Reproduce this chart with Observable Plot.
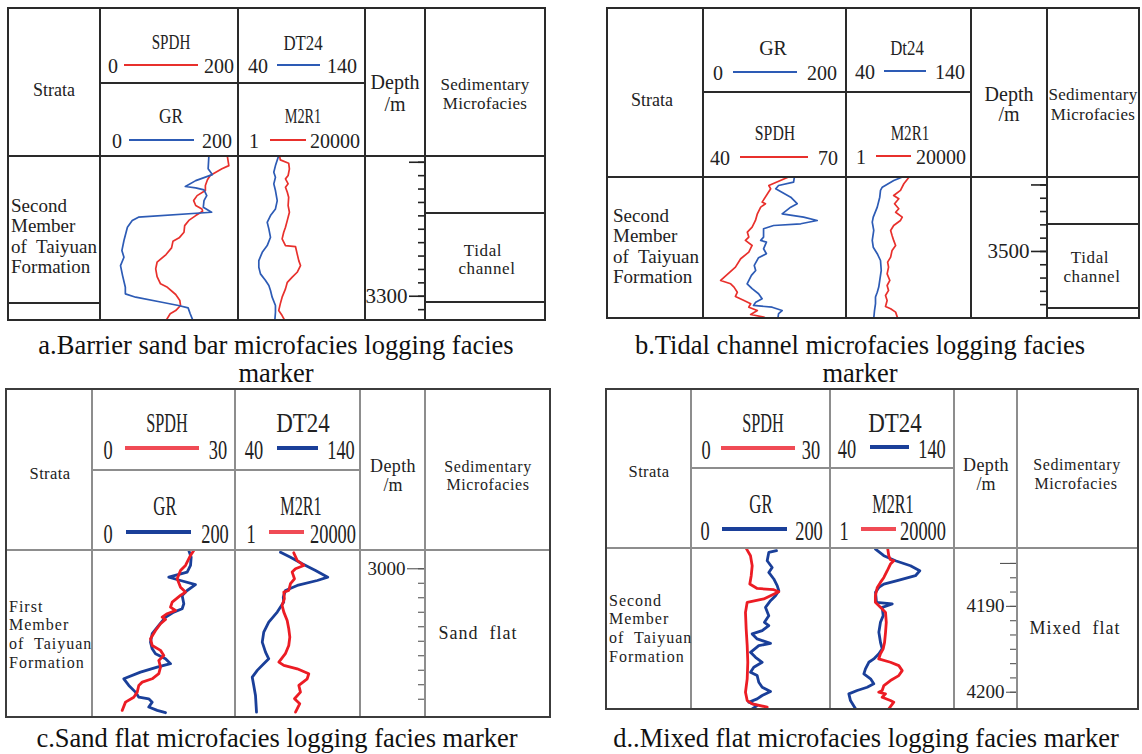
<!DOCTYPE html>
<html><head><meta charset="utf-8">
<script src="https://cdn.jsdelivr.net/npm/d3@7"></script>
<script src="https://cdn.jsdelivr.net/npm/@observablehq/plot@0.6"></script>
<style>
html,body{margin:0;padding:0;background:#fff;}
#fig{position:relative;width:1142px;height:754px;overflow:hidden;background:#fff;}
#fig svg{display:block;}
</style></head><body><div id="fig"></div>
<script>
// ================= DATA =================
// curve readings: [depth (m), value]
const a_SPDH = [[3289.6,184],[3290.25,186],[3290.49,176],[3290.99,159],[3291.31,155],[3291.74,152],[3292.11,152],[3292.49,140],[3292.86,135],[3293.23,138],[3293.48,147],[3293.66,148],[3293.98,138],[3294.34,128],[3294.73,122],[3295.22,121],[3295.64,114],[3295.90,105],[3296.39,103],[3296.89,95],[3297.46,82],[3297.96,80],[3298.53,82],[3299.07,87],[3299.33,97],[3299.87,109],[3300.32,115],[3300.69,116],[3301.07,109],[3301.31,101],[3301.81,95]];
const a_GR = [[3289.6,157],[3290.49,156],[3290.92,162],[3291.37,138],[3291.81,123],[3291.91,138],[3292.06,150],[3292.49,154],[3292.86,150],[3293.36,149],[3293.73,161],[3294.10,55],[3294.34,46],[3294.85,39],[3295.84,34],[3296.59,31],[3297.09,34],[3297.71,29],[3298.46,32],[3299.33,36],[3299.82,36],[3300.07,51],[3300.45,89],[3300.69,113],[3300.87,127],[3301.31,130],[3301.81,134]];
const a_DT24 = [[3289.6,71.3],[3290.25,69.1],[3290.75,67.8],[3291.12,69.1],[3291.61,67.8],[3292.11,69.1],[3292.86,70.5],[3293.48,69.1],[3293.98,65.2],[3294.48,62.6],[3294.97,63.9],[3295.60,65.2],[3296.22,62.6],[3296.72,58.7],[3297.34,56],[3297.84,56],[3298.33,57.3],[3298.83,61.3],[3299.20,63.9],[3299.57,65.2],[3300.07,66.5],[3300.69,69.1],[3301.19,69.1],[3301.81,68.6]];
const a_M2R1 = [[3289.6,25],[3289.82,26],[3290.07,50],[3290.49,53],[3290.99,48],[3291.24,39],[3291.61,48],[3291.87,39],[3292.24,45],[3292.61,50],[3293.23,48],[3293.73,53],[3294.34,45],[3294.85,39],[3295.22,34],[3295.72,30],[3296.22,39],[3296.29,85],[3296.84,97],[3297.34,110],[3297.71,126],[3298.21,97],[3298.58,66],[3298.96,45],[3299.45,39],[3300.07,30],[3300.57,26],[3301.07,23],[3301.44,30],[3301.81,37]];

const b_GR = [[3494.44,127],[3494.79,126],[3495.04,105],[3495.29,101],[3495.92,122],[3496.41,131],[3496.67,122],[3497.17,110],[3497.42,140],[3497.67,159],[3497.92,136],[3498.05,98],[3498.29,84],[3498.92,84],[3499.17,80],[3499.30,88],[3499.80,84],[3500.17,88],[3500.47,77],[3501.05,71],[3501.43,73],[3501.80,67],[3502.43,61],[3502.80,68],[3503.18,77],[3503.56,82],[3503.81,73],[3504.06,70],[3504.19,96],[3504.44,110],[3504.68,105],[3505.04,104]];
const b_SPDH = [[3494.44,57.6],[3495.04,53.7],[3495.29,54.1],[3496.29,52.3],[3496.41,53.0],[3496.67,52.0],[3497.17,51.3],[3497.67,50.9],[3498.17,50.2],[3498.55,49.2],[3498.92,49.5],[3499.17,48.8],[3499.55,50.2],[3500.05,49.5],[3500.55,47.8],[3501.18,46.7],[3502.18,43.6],[3502.43,45.7],[3502.68,46.4],[3503.06,47.1],[3503.38,46.7],[3503.68,48.5],[3503.93,49.9],[3504.19,49.5],[3504.44,51.3],[3504.74,49.9],[3504.94,52.7],[3505.04,53.2]];
const b_DT24 = [[3494.44,83.8],[3494.66,77.8],[3495.17,68.6],[3495.41,67.2],[3495.92,66.6],[3496.67,64.6],[3497.42,61.4],[3497.80,60.6],[3498.42,61.8],[3499.17,60.6],[3499.68,61.4],[3500.17,64.6],[3500.68,67.2],[3501.43,67.8],[3502.18,66.6],[3502.68,65.8],[3503.06,64.6],[3503.43,63.2],[3503.93,63.2],[3504.44,62.4],[3505.04,61.8]];
const b_M2R1 = [[3494.44,139],[3494.91,94],[3495.41,72],[3495.79,42],[3496.04,63],[3496.41,45],[3496.79,63],[3497.05,49],[3497.42,83],[3497.67,72],[3498.05,42],[3498.42,33],[3498.80,37],[3499.17,42],[3499.55,49],[3499.92,37],[3500.43,33],[3500.80,26],[3501.18,28],[3501.68,25],[3502.18,31],[3502.56,25],[3502.93,28],[3503.31,22],[3503.68,25],[3504.14,22],[3504.31,33],[3504.56,49],[3505.04,58]];

const c_SPDH = [[2998.74,21.25],[2999.08,20.56],[2999.77,19.51],[3000.12,18.46],[3000.69,17.77],[3001.27,18.46],[3001.61,19.51],[3001.84,18.46],[3002.30,16.72],[3002.65,16.36],[3002.88,17.41],[3003.10,15.67],[3003.34,14.62],[3003.50,15.32],[3003.79,14.27],[3004.26,13.22],[3004.83,12.17],[3005.29,12.52],[3005.63,14.27],[3005.98,14.96],[3006.32,13.91],[3006.79,14.27],[3007.24,13.91],[3007.59,12.52],[3007.82,10.43],[3008.05,9.71],[3008.51,9.38],[3008.86,8.66],[3009.20,6.92],[3009.77,6.23]];
const c_GR = [[2998.74,134.7],[2999.20,138],[2999.77,137.1],[3000.23,132.4],[3000.58,106.7],[3000.81,123.1],[3001.10,144],[3001.50,132.4],[3001.84,125.4],[3002.41,127.7],[3002.76,125.4],[3002.99,113.7],[3003.34,102.1],[3003.91,92.7],[3004.48,83.5],[3005.06,81.1],[3005.52,83.5],[3005.86,88.1],[3006.21,102.1],[3006.55,109.1],[3006.79,90.5],[3007.13,67.1],[3007.59,43.8],[3008.05,50.8],[3008.51,60.1],[3008.86,64.8],[3008.97,78.7],[3009.20,83.5],[3009.54,78.7],[3009.77,90.5],[3009.93,102.1]];
const c_DT24 = [[2998.86,76],[2999.20,84],[2999.66,93.4],[3000.12,104],[3000.58,113.8],[3000.81,105.4],[3001.15,89.4],[3001.50,80],[3001.96,78.2],[3002.30,78.6],[3002.99,73.4],[3003.68,66.6],[3004.37,62.6],[3005.06,61.4],[3005.75,64],[3006.21,66.6],[3006.55,62.6],[3007.01,57.4],[3007.48,53.4],[3008.05,54.6],[3008.74,56],[3009.89,56.8]];
const c_M2R1 = [[2998.90,101],[2999.43,133],[2999.77,224],[3000.00,116],[3000.23,89],[3000.69,107],[3001.03,78],[3001.50,68],[3001.61,46],[3002.07,48],[3002.53,40],[3002.99,46],[3003.57,60],[3004.14,68],[3004.72,74],[3005.29,68],[3005.86,52],[3006.44,31],[3006.67,46],[3006.90,133],[3007.24,333],[3007.59,293],[3008.05,151],[3008.51,172],[3008.97,107],[3009.31,163],[3009.89,116]];

const d_SPDH = [[4183.3,11.87],[4184.10,12.73],[4185.27,13.10],[4186.43,12.89],[4187.40,12.58],[4187.91,14.18],[4188.06,17.76],[4188.29,18.84],[4189.14,15.60],[4189.53,12.02],[4190.70,11.65],[4192.63,11.80],[4194.57,12.02],[4196.51,12.15],[4198.44,12.02],[4200.00,11.65],[4200.97,12.02],[4201.35,13.10],[4201.74,16.34]];
const d_GR = [[4183.52,122.3],[4183.72,111.2],[4184.69,108.9],[4185.47,116.1],[4186.05,111.2],[4186.81,118.4],[4187.59,123.3],[4188.17,125.6],[4188.76,120.9],[4189.34,113.7],[4190.12,106.5],[4191.08,111.2],[4191.86,105],[4192.24,111.2],[4192.83,101.7],[4193.21,87.3],[4193.79,94.5],[4194.30,113.7],[4194.57,96.8],[4195.35,84.9],[4195.93,92.1],[4196.51,101.7],[4197.09,89.6],[4197.67,84.9],[4198.06,94.5],[4198.84,96.8],[4199.42,101.7],[4199.92,113.7],[4200.38,101.7],[4200.77,94.5],[4201.16,82.4],[4201.55,94.5],[4201.93,87.3]];
const d_DT24 = [[4183.33,76.3],[4184.10,83],[4184.69,92.4],[4185.27,104.5],[4185.85,112],[4186.43,108.5],[4187.01,93.8],[4187.40,83],[4187.79,79],[4188.37,76.3],[4189.53,77.1],[4189.72,89.8],[4190.12,81.7],[4191.08,82.5],[4191.86,80.3],[4193.02,79],[4194.19,80.3],[4194.95,81.7],[4195.53,79],[4196.12,74.9],[4196.51,70.9],[4197.28,68.2],[4197.86,66.9],[4198.44,72.3],[4199.02,74.9],[4199.42,69.6],[4199.80,61.5],[4200.19,54.8],[4200.97,56.1],[4201.93,60.2]];
const d_M2R1 = [[4183.33,97],[4184.10,105],[4184.57,120],[4184.69,157],[4185.07,120],[4185.85,93],[4186.63,71],[4187.21,54],[4187.79,42],[4188.76,36],[4189.53,36],[4190.30,62],[4190.70,81],[4191.86,86],[4193.02,81],[4194.19,75],[4194.95,67],[4195.53,54],[4196.12,47],[4196.51,120],[4196.90,234],[4197.48,307],[4198.06,234],[4198.64,120],[4199.22,71],[4199.80,62],[4200.00,47],[4200.19,81],[4200.58,62],[4200.97,120],[4201.16,157],[4201.93,105]];

// curve scale ranges (header legends)
const a_ranges = {SPDH:[0,200], GR:[0,200], DT24:[40,140], M2R1:[1,20000]};
const b_ranges = {GR:[0,200], Dt24:[40,140], SPDH:[40,70], M2R1:[1,20000]};
const c_ranges = {SPDH:[0,30], GR:[0,200], DT24:[40,140], M2R1:[1,20000]};
const d_ranges = {SPDH:[0,30], GR:[0,200], DT24:[40,140], M2R1:[1,20000]};

// depth ticks
const a_minor = [3290,3291,3292,3293,3294,3295,3296,3297,3298,3299,3300,3301];
const a_major = [3290];
const a_labels = [3300];
const b_minor = [3495,3496,3497,3498,3499,3500,3501,3502,3503,3504];
const b_major = [3495];
const b_labels = [3500];
const c_minor = [3000,3001,3002,3003,3004,3005,3006,3007,3008,3009];
const c_major = [];
const c_labels = [3000];
const d_minor = [4185,4186.67,4188.33,4190,4191.67,4193.33,4195,4196.67,4198.33,4200];
const d_major = [4185];
const d_labels = [4190,4200];

// texts
const stratumA = ["Second","Member","of  Taiyuan","Formation"];
const stratumC = ["First","Member","of  Taiyuan","Formation"];
const captions = {
  a:["a.Barrier sand bar microfacies logging facies","marker"],
  b:["b.Tidal channel microfacies logging facies","marker"],
  c:["c.Sand flat microfacies logging facies marker"],
  d:["d..Mixed flat microfacies logging facies marker"]
};

// ================= DRAWING =================
const SERIF = '"Liberation Serif","DejaVu Serif","Times New Roman",serif';
const fig = document.getElementById('fig');
function el(style){const d=document.createElement('div');Object.assign(d.style,{position:'absolute'},style);fig.appendChild(d);return d;}
function hline(x1,x2,y,w,c){el({left:x1+'px',top:(y-w/2)+'px',width:(x2-x1)+'px',height:w+'px',background:c});}
function vline(x,y1,y2,w,c){el({left:(x-w/2)+'px',top:y1+'px',width:w+'px',height:(y2-y1)+'px',background:c});}
function text(str,x,y,o={}){
  const d=el({left:x+'px',top:y+'px',transform:`translate(-50%,-50%) scaleX(${o.sx||1})`,fontFamily:SERIF,
    fontSize:(o.size||16)+'px',whiteSpace:'pre',color:o.color||'#222',letterSpacing:(o.ls||0)+'px',lineHeight:'1'});
  d.textContent=str;
}
function ltext(str,x,y,o={}){
  const d=el({left:x+'px',top:y+'px',transform:'translate(0,-50%)',fontFamily:SERIF,fontSize:(o.size||16)+'px',
    whiteSpace:'pre',color:o.color||'#222',letterSpacing:(o.ls||0)+'px',lineHeight:'1'});
  d.textContent=str;
}
function curvePlot(data,x1,x2,y1,y2,xdom,type,ydom,color,sw){
  const svg=Plot.plot({width:x2-x1,height:y2-y1,margin:0,
    x:{domain:xdom,type,axis:null},y:{domain:ydom,reverse:true,axis:null},
    style:{background:'transparent',overflow:'visible'},
    marks:[Plot.line(data,{x:d=>d[1],y:d=>d[0],stroke:color,strokeWidth:sw,strokeLinejoin:'round',strokeLinecap:'round',clip:true})]});
  const d=el({left:x1+'px',top:y1+'px',width:(x2-x1)+'px',height:(y2-y1)+'px'});
  d.appendChild(svg);
}
function depthAxis(P){
  const [x0,x1,x2,x3,x4,x5]=P.cols;const hd=P.rows[2],b=P.rows[3];
  const w=x4-x3,h=b-hd,tw=P.sty.tickW,tc=P.sty.tickC;
  const common={anchor:'left',strokeWidth:tw,stroke:tc,label:null,fontSize:P.axisFont,fontFamily:SERIF,fill:'#222'};
  const marks=[Plot.axisY(P.minor,{...common,tickSize:6,tickFormat:()=>''})];
  if(P.major.length)marks.push(Plot.axisY(P.major,{...common,tickSize:P.majorSize,tickFormat:()=>''}));
  marks.push(Plot.axisY(P.labels,{...common,tickSize:P.labelSize,tickPadding:2,tickFormat:d=>String(d)}));
  const svg=Plot.plot({width:w,height:h,marginTop:0,marginBottom:0,marginLeft:w-1,marginRight:1,
    y:{domain:P.depth,reverse:true,label:null},
    style:{background:'transparent',overflow:'visible',fontFamily:SERIF,fontSize:P.axisFont+'px',color:'#222'},marks});
  svg.querySelectorAll('text').forEach(t=>{t.style.fontFamily=SERIF;t.style.fontSize=P.axisFont+'px';});
  svg.querySelectorAll('g').forEach(g=>{if(g.getAttribute('font-size'))g.setAttribute('font-size',P.axisFont);});
  const d=el({left:x3+'px',top:hd+'px',width:w+'px',height:h+'px'});
  d.appendChild(svg);
}
function drawPanel(P){
  const [x0,x1,x2,x3,x4,x5]=P.cols;const [t,m,hd,b]=P.rows;const S=P.sty;
  P.curves.forEach(cv=>{
    const xa=cv.track===0?x1:x2, xb=cv.track===0?x2:x3;
    curvePlot(cv.data,xa,xb,hd,b,cv.range,cv.range[1]===20000?'log':'linear',P.depth,cv.color,S.curveW);
  });
  [x1,x2,x3,x4].forEach(x=>vline(x,t,b,S.innerW,S.innerC));
  hline(x0,x5,hd,S.innerW,S.innerC);
  hline(x1,x3,m,S.innerW,S.innerC);
  P.extra.forEach(([xa,xb,y])=>hline(xa,xb,y,S.innerW,S.innerC));
  hline(x0-S.outerW/2,x5+S.outerW/2,t,S.outerW,S.outerC);
  hline(x0-S.outerW/2,x5+S.outerW/2,b,S.outerW,S.outerC);
  vline(x0,t,b,S.outerW,S.outerC);
  vline(x5,t,b,S.outerW,S.outerC);
  depthAxis(P);
  P.heads.forEach(hh=>{
    text(hh.name,hh.nx,hh.ny,{size:S.labelSize,sx:hh.sx});
    const ny=hh.ly+S.numDy;
    text(String(hh.range[0]),hh.lox,ny,{size:S.numSize,sx:S.numSx});
    text(String(hh.range[1]),hh.hix,ny,{size:S.numSize,sx:S.numSx});
    hline(hh.l1,hh.l2,hh.ly,S.legendW,hh.lcolor);
  });
  P.texts.forEach(tx=>text(tx[0],tx[1],tx[2],tx[3]));
  P.strata.lines.forEach((s,i)=>ltext(s,P.strata.x,P.strata.ys[i],P.strata.o));
  P.caption.forEach((s,i)=>text(s,P.capX,P.capY[i],{size:26.5,color:'#111'}));
}

const R1='#e8302c',B1='#2d5bb5',R2='#ec1c24',B2='#1a3f99',RL2='#f04b55';
const styAB={innerW:2,innerC:'#2a2a2a',outerW:2.6,outerC:'#2a2a2a',curveW:1.7,legendW:2,tickW:1.6,tickC:'#222',labelSize:21,numSize:20,numSx:1,numDy:1};
const styCD={innerW:1.2,innerC:'#8d8d8d',outerW:2,outerC:'#3c3c3c',curveW:2.8,legendW:3.6,tickW:1.1,tickC:'#555',labelSize:27,numSize:27,numSx:0.68,numDy:2};

drawPanel({
  cols:[8,100,238,365,425,545],rows:[8,83,156,320],depth:[3289.57,3301.81],sty:styAB,
  curves:[{track:0,data:a_SPDH,range:a_ranges.SPDH,color:R1},{track:0,data:a_GR,range:a_ranges.GR,color:B1},
          {track:1,data:a_DT24,range:a_ranges.DT24,color:B1},{track:1,data:a_M2R1,range:a_ranges.M2R1,color:R1}],
  extra:[[8,100,303],[425,545,213],[425,545,302]],
  minor:a_minor,major:a_major,labels:a_labels,majorSize:15,labelSize:15,axisFont:21,
  heads:[
    {name:'SPDH',range:a_ranges.SPDH,nx:171,ny:42,lox:113,hix:219,l1:124,l2:198,ly:65,lcolor:R1,sx:0.72},
    {name:'DT24',range:a_ranges.DT24,nx:303,ny:43,lox:258,hix:342,l1:277,l2:320,ly:65,lcolor:B1,sx:0.8},
    {name:'GR',range:a_ranges.GR,nx:171,ny:116,lox:117,hix:217,l1:129,l2:194,ly:140,lcolor:B1,sx:0.82},
    {name:'M2R1',range:a_ranges.M2R1,nx:303,ny:116,lox:254,hix:335,l1:270,l2:306,ly:140,lcolor:R1,sx:0.68}],
  texts:[['Strata',54,90,{size:18}],['Depth',395,82,{size:20}],['/m',395,104,{size:20}],
         ['Sedimentary',485,84,{size:17,ls:0.3}],['Microfacies',485,103,{size:17,ls:0.3}],
         ['Tidal',483,250,{size:17,ls:0.6}],['channel',487,268,{size:17,ls:0.6}]],
  strata:{lines:stratumA,x:11,ys:[205,225,246,266],o:{size:19}},
  caption:captions.a,capX:276,capY:[345,373]
});
drawPanel({
  cols:[607,703,846,971,1047,1139],rows:[8,92,177,318],depth:[3494.44,3505.04],sty:styAB,
  curves:[{track:0,data:b_SPDH,range:b_ranges.SPDH,color:R1},{track:0,data:b_GR,range:b_ranges.GR,color:B1},
          {track:1,data:b_DT24,range:b_ranges.Dt24,color:B1},{track:1,data:b_M2R1,range:b_ranges.M2R1,color:R1}],
  extra:[[1047,1139,224],[1047,1139,308]],
  minor:b_minor,major:b_major,labels:b_labels,majorSize:15,labelSize:15,axisFont:21,
  heads:[
    {name:'GR',range:b_ranges.GR,nx:773,ny:48,lox:718,hix:822,l1:733,l2:797,ly:72,lcolor:B1,sx:0.95},
    {name:'Dt24',range:b_ranges.Dt24,nx:907,ny:48,lox:865,hix:950,l1:884,l2:926,ly:71,lcolor:B1,sx:0.8},
    {name:'SPDH',range:b_ranges.SPDH,nx:775,ny:133,lox:720,hix:828,l1:740,l2:808,ly:157,lcolor:R1,sx:0.75},
    {name:'M2R1',range:b_ranges.M2R1,nx:910,ny:133,lox:861,hix:941,l1:876,l2:911,ly:156,lcolor:R1,sx:0.72}],
  texts:[['Strata',652,100,{size:18}],['Depth',1009,94,{size:20}],['/m',1009,114,{size:20}],
         ['Sedimentary',1093,94,{size:17,ls:0.3}],['Microfacies',1093,114,{size:17,ls:0.3}],
         ['Tidal',1090,257,{size:17,ls:0.6}],['channel',1092,276,{size:17,ls:0.6}]],
  strata:{lines:stratumA,x:613,ys:[215,235,256,276],o:{size:19}},
  caption:captions.b,capX:860,capY:[345,373]
});
drawPanel({
  cols:[6,92,235,360,425,550],rows:[389,470,550,717],depth:[2998.74,3010.26],sty:styCD,
  curves:[{track:0,data:c_GR,range:c_ranges.GR,color:B2},{track:0,data:c_SPDH,range:c_ranges.SPDH,color:R2},
          {track:1,data:c_DT24,range:c_ranges.DT24,color:B2},{track:1,data:c_M2R1,range:c_ranges.M2R1,color:R2}],
  extra:[],
  minor:c_minor,major:c_major,labels:c_labels,majorSize:17,labelSize:17,axisFont:19,
  heads:[
    {name:'SPDH',range:c_ranges.SPDH,nx:167,ny:423,lox:108,hix:218,l1:125,l2:199,ly:448,lcolor:RL2,sx:0.6},
    {name:'DT24',range:c_ranges.DT24,nx:303,ny:423,lox:254,hix:341,l1:277,l2:318,ly:448,lcolor:B2,sx:0.85},
    {name:'GR',range:c_ranges.GR,nx:165,ny:506,lox:108,hix:215,l1:126,l2:191,ly:532,lcolor:B2,sx:0.62},
    {name:'M2R1',range:c_ranges.M2R1,nx:301,ny:506,lox:251,hix:333,l1:269,l2:304,ly:532,lcolor:RL2,sx:0.6}],
  texts:[['Strata',50,474,{size:16.5,ls:0.4}],['Depth',393,466,{size:18,ls:0.4}],['/m',393,485,{size:18}],
         ['Sedimentary',488,467,{size:16,ls:0.6}],['Microfacies',488,485,{size:16,ls:0.6}],
         ['Sand  flat',478,633,{size:18,ls:1}]],
  strata:{lines:stratumC,x:9,ys:[607,625,644,663],o:{size:16,ls:1}},
  caption:captions.c,capX:277,capY:[738]
});
drawPanel({
  cols:[606,691,830,954,1017,1138],rows:[389,468,548,709],depth:[4183.26,4202.01],sty:styCD,
  curves:[{track:0,data:d_GR,range:d_ranges.GR,color:B2},{track:0,data:d_SPDH,range:d_ranges.SPDH,color:R2},
          {track:1,data:d_DT24,range:d_ranges.DT24,color:B2},{track:1,data:d_M2R1,range:d_ranges.M2R1,color:R2}],
  extra:[],
  minor:d_minor,major:d_major,labels:d_labels,majorSize:16,labelSize:10,axisFont:19,
  heads:[
    {name:'SPDH',range:d_ranges.SPDH,nx:763,ny:423,lox:706,hix:811,l1:721,l2:795,ly:448,lcolor:RL2,sx:0.6},
    {name:'DT24',range:d_ranges.DT24,nx:895,ny:423,lox:847,hix:932,l1:870,l2:909,ly:447,lcolor:B2,sx:0.85},
    {name:'GR',range:d_ranges.GR,nx:761,ny:504,lox:705,hix:809,l1:722,l2:787,ly:529,lcolor:B2,sx:0.62},
    {name:'M2R1',range:d_ranges.M2R1,nx:893,ny:504,lox:844,hix:923,l1:861,l2:896,ly:529,lcolor:RL2,sx:0.6}],
  texts:[['Strata',649,472,{size:16.5,ls:0.4}],['Depth',986,465,{size:18,ls:0.4}],['/m',986,484,{size:18}],
         ['Sedimentary',1077,465,{size:16,ls:0.6}],['Microfacies',1076,484,{size:16,ls:0.6}],
         ['Mixed  flat',1075,628,{size:18,ls:1}]],
  strata:{lines:stratumA,x:609,ys:[601,619,638,657],o:{size:16,ls:1}},
  caption:captions.d,capX:866,capY:[738]
});
</script></body></html>
